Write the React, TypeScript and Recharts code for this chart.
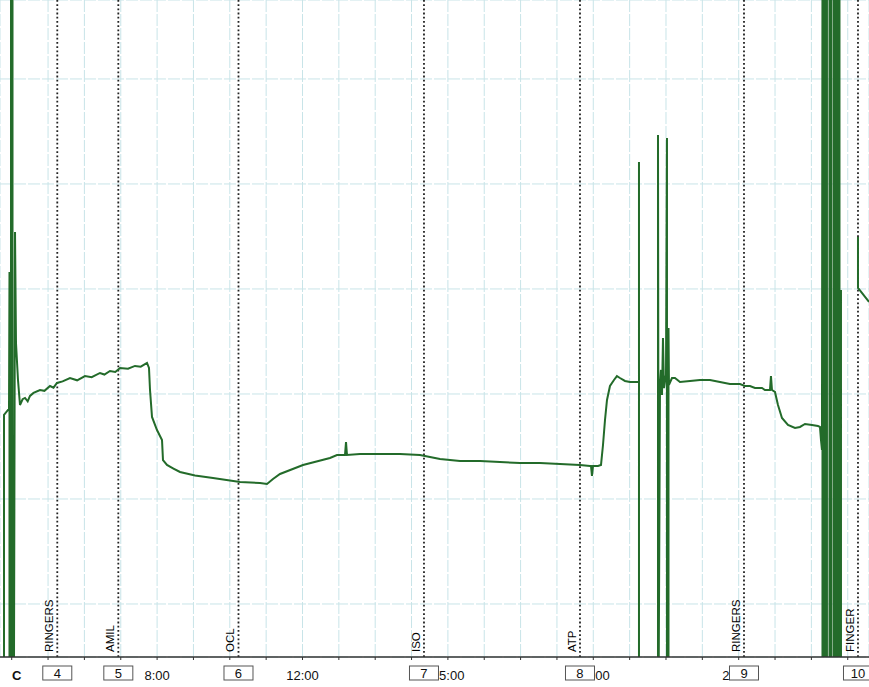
import React from 'react';
import { LineChart, Line, XAxis, YAxis, CartesianGrid, ReferenceLine } from 'recharts';

// time in minutes, current in arbitrary units (grid every 10)
const traceTime = [
  3.788, 3.788, 3.898, 3.926, 3.939, 3.939, 3.981, 3.981, 4.022, 4.022, 4.063, 4.091, 4.118, 4.173, 4.228,
  4.3, 4.366, 4.44, 4.503, 4.6, 4.778, 4.9, 5.054, 5.15, 5.246, 5.4, 5.604, 5.8, 6.016, 6.2, 6.429, 6.55,
  6.704, 6.85, 6.979, 7.2, 7.392, 7.55, 7.722,
  7.777, 7.805, 7.86, 7.997, 8.135, 8.162, 8.272, 8.45, 8.63, 9.043, 9.538, 10.281, 10.831, 11.023,
  11.188, 11.381, 12.014, 12.756, 12.949, 13.169, 13.197, 13.224, 13.582, 14.132, 14.682, 15.232,
  15.507, 15.783, 16.333, 16.883, 17.433, 17.983, 18.534, 19.084, 19.634, 19.909, 19.937, 19.964,
  19.992, 20.129, 20.212, 20.267, 20.322, 20.377, 20.459, 20.569, 20.65, 20.734, 20.872, 21.009, 21.229,
  21.257, 21.257, 21.257, 21.78, 21.78, 21.8,
  21.835, 21.862, 21.89, 21.917, 21.945, 22.0, 22.027, 22.027, 22.069, 22.069, 22.082, 22.165,
  22.247, 22.385, 22.66, 22.935, 23.21, 23.485, 23.76, 24.035, 24.173, 24.31, 24.448, 24.641,
  24.723, 24.861, 24.888, 24.916, 24.998, 25.081, 25.191, 25.356, 25.549, 25.686, 25.824, 26.016,
  26.181, 26.236, 26.264, 26.291,
  26.305, 26.305, 26.346, 26.346, 26.387, 26.387, 26.428, 26.428, 26.498, 26.498, 26.539, 26.539,
  26.607, 26.607, 26.649, 26.649, 26.69, 26.69, 26.731, 26.731, 26.773, 26.773, 26.814, 26.814,
  27.0, 27.282, 27.282, 27.585,
];

const traceCurrent = [
  -6, 18.0, 18.48, 18.48, 31.62, -6, -6, 60, 60, -6, -6, 35.43, 24.86, 21.33, 18.95,
  19.5, 19.62, 19.3, 19.81, 20.1, 20.38, 20.3, 20.76, 20.6, 21.05, 21.2, 21.52, 21.3, 21.71, 21.6, 22.0, 21.85,
  22.19, 22.1, 22.48, 22.4, 22.67, 22.6, 22.95,
  22.48, 20.38, 17.81, 16.57, 15.62, 13.71, 13.24, 12.9, 12.57, 12.24, 12.0, 11.62, 11.52, 11.43,
  11.9, 12.38, 13.24, 13.9, 14.19, 14.19, 15.43, 14.19, 14.29, 14.29, 14.29, 14.19,
  14.0, 13.81, 13.62, 13.62, 13.52, 13.43, 13.43, 13.33, 13.24, 13.14, 13.14, 12.19,
  13.14, 13.14, 13.24, 15.14, 17.52, 19.43, 20.76, 21.33, 21.7, 21.52, 21.24, 21.14, 21.14,
  21.14, 42.1, -6, -6, 44.67, -6,
  20.86, 22.29, 19.9, 25.33, 20.57, 21.81, 44.38, -6, -6, 26.29, 20.86, 21.52,
  21.52, 21.14, 21.24, 21.33, 21.33, 21.14, 20.95, 20.95, 20.76, 20.76, 20.57, 20.57,
  20.38, 20.38, 21.71, 20.38, 20.19, 18.95, 17.71, 17.05, 16.76, 16.86, 17.14, 17.05,
  16.95, 16.86, 15.62, 14.67,
  60, -6, -6, 60, 60, -6, -6, 60, 60, -6, -6, 60,
  60, -6, -6, 60, 60, -6, -6, 60, 60, -6, -6, 29.9,
  null, 34.95, 30.1, 28.76,
];

const minuteTicks = [4, 5, 6, 7, 8, 9, 10, 11, 12, 13, 14, 15, 16, 17, 18, 19, 20, 21, 22, 23, 24, 25, 26, 27];
// visible parts of the clock labels (the rest is hidden behind event boxes)
const labelMinutes = [8, 12, 16, 20, 24];
const labelTexts = ['8:00', '12:00', '5:00', '00', '2'];
const currentTicks = [0, 10, 20, 30, 40, 50];

const eventTimes = [5.254, 6.933, 10.239, 15.342, 19.634, 24.146, 27.282];
const eventNames = ['RINGERS', 'AMIL', 'OCL', 'ISO', 'ATP', 'RINGERS', 'FINGER'];
const eventNumbers = ['4', '5', '6', '7', '8', '9', '10'];

const data = traceTime.map((t, i) => ({ t, v: traceCurrent[i] }));

const FONT = '"Liberation Sans", Arial, sans-serif';
const HALF_LABEL = 16.5;

const TimeTick = (props: any) => {
  const { x, y, payload } = props;
  const v = payload.value;
  if (v === 4) {
    return (
      <text x={x + 5} y={y + 18} textAnchor="middle" fontSize={13} fontWeight="bold" fontFamily={FONT} fill="#111">
        C
      </text>
    );
  }
  const idx = labelMinutes.indexOf(v);
  if (idx < 0) return null;
  const txt = labelTexts[idx];
  let anchor: any = 'middle';
  let tx = x;
  if (v === 16 || v === 20) {
    anchor = 'end';
    tx = x + HALF_LABEL;
  } else if (v === 24) {
    anchor = 'start';
    tx = x - HALF_LABEL;
  }
  return (
    <text x={tx} y={y + 18} textAnchor={anchor} fontSize={13} fontFamily={FONT} fill="#111">
      {txt}
    </text>
  );
};

const EventMark = (props: any) => {
  const { viewBox, name, num } = props;
  if (!viewBox) return null;
  const x = viewBox.x;
  const bottom = viewBox.y + viewBox.height;
  return (
    <g>
      <text
        transform={`translate(${x - 4},${bottom - 5}) rotate(-90)`}
        fontSize={11.5}
        fontFamily={FONT}
        fill="#000"
      >
        {name}
      </text>
      <rect x={x - 14.5} y={bottom + 9} width={29} height={14} fill="#fff" stroke="#555" strokeWidth={1} />
      <text x={x} y={bottom + 21} textAnchor="middle" fontSize={13} fontFamily={FONT} fill="#111">
        {num}
      </text>
    </g>
  );
};

export default function App() {
  return (
    <div style={{ position: 'absolute', left: 0, top: 0, background: '#fff' }}>
      <LineChart width={869} height={687} data={data} margin={{ top: 0, right: 0, bottom: 0, left: 0 }}>
        <CartesianGrid stroke="#c8e4e8" strokeDasharray="12 2" />
        <XAxis
          dataKey="t"
          type="number"
          domain={[3.678, 27.585]}
          allowDataOverflow
          ticks={minuteTicks}
          interval={0}
          height={30}
          tickSize={3}
          axisLine={{ stroke: '#333', strokeWidth: 1.5 }}
          tickLine={{ stroke: '#333' }}
          tick={<TimeTick />}
        />
        <YAxis hide type="number" domain={[-5.05, 57.52]} ticks={currentTicks} allowDataOverflow />
        {eventTimes.map((t, i) => (
          <ReferenceLine
            key={i}
            x={t}
            stroke="#222"
            strokeWidth={1.8}
            strokeDasharray="1.8 2.4"
            label={(p: any) => <EventMark {...p} name={eventNames[i]} num={eventNumbers[i]} />}
          />
        ))}
        <Line
          dataKey="v"
          type="linear"
          stroke="#236b2a"
          strokeWidth={2}
          dot={false}
          activeDot={false}
          connectNulls={false}
          isAnimationActive={false}
        />
      </LineChart>
    </div>
  );
}
